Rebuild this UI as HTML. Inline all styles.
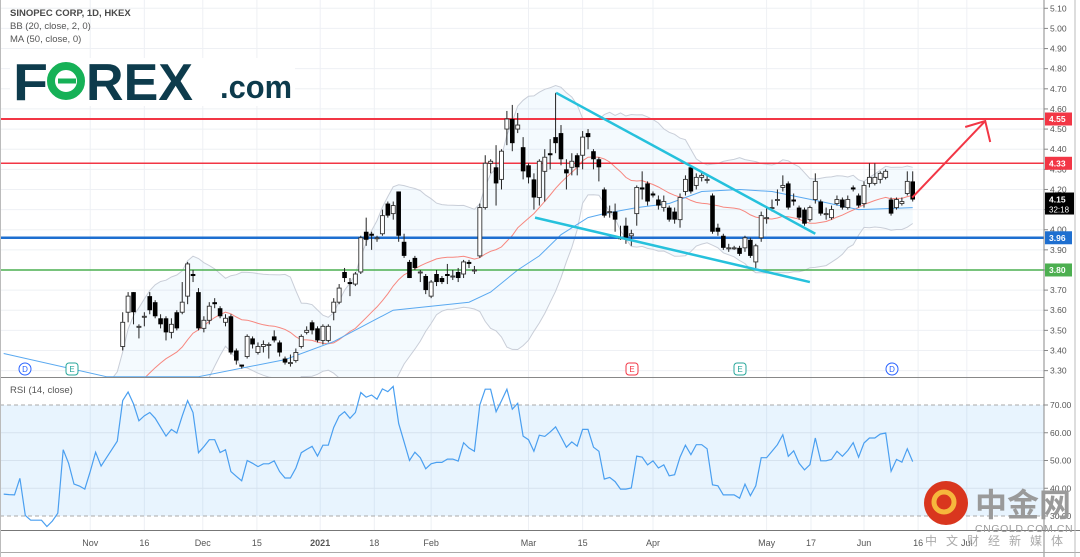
<!DOCTYPE html>
<html><head><meta charset="utf-8"><style>
html,body{margin:0;padding:0;background:#fff;}
svg{display:block;font-family:"Liberation Sans","Noto Sans CJK SC",sans-serif;}
</style></head><body>
<svg id="chart" width="1080" height="557" viewBox="0 0 1080 557" xmlns="http://www.w3.org/2000/svg">
<defs>
<clipPath id="mainClip"><rect x="0" y="0" width="1044" height="377"/></clipPath>
<clipPath id="rsiClip"><rect x="0" y="378" width="1044" height="152"/></clipPath>
</defs>
<g id="grid"></g>
<g id="main" clip-path="url(#mainClip)"></g>
<g id="rsi" clip-path="url(#rsiClip)"></g>
<g id="axes"></g>
<g id="overlay"></g>
</svg>
<script>
// ---- DATA ----
const opens = [3.42,3.59,3.69,3.52,3.57,3.67,3.64,3.56,3.56,3.49,3.59,3.59,3.67,3.78,3.69,3.51,3.55,3.64,3.61,3.54,3.57,3.40,3.33,3.37,3.46,3.39,3.42,3.43,3.47,3.44,3.36,3.34,3.35,3.42,3.49,3.54,3.51,3.45,3.45,3.59,3.64,3.79,3.74,3.73,3.79,3.99,3.98,3.96,3.98,4.13,4.08,4.19,3.94,3.84,3.86,3.79,3.77,3.67,3.78,3.76,3.78,3.77,3.79,3.78,3.84,3.80,3.87,4.11,4.33,4.31,4.25,4.50,4.55,4.50,4.41,4.32,4.25,4.16,4.29,4.38,4.46,4.48,4.30,4.31,4.37,4.37,4.48,4.39,4.35,4.20,4.09,4.09,3.96,4.02,3.97,4.08,4.21,4.23,4.18,4.15,4.11,4.11,4.09,4.05,4.19,4.31,4.22,4.26,4.25,4.17,4.01,3.97,3.91,3.91,3.91,3.91,3.95,3.84,3.96,4.06,4.11,4.15,4.21,4.23,4.15,4.11,4.10,4.05,4.15,4.14,4.08,4.06,4.13,4.15,4.11,4.21,4.17,4.13,4.23,4.23,4.25,4.26,4.15,4.11,4.13,4.18,4.24];
const highs = [3.59,3.69,3.69,3.53,3.59,3.69,3.65,3.58,3.57,3.56,3.60,3.74,3.84,3.80,3.71,3.57,3.64,3.66,3.62,3.58,3.58,3.41,3.33,3.48,3.47,3.44,3.45,3.44,3.50,3.45,3.37,3.38,3.41,3.48,3.52,3.55,3.52,3.53,3.53,3.66,3.73,3.81,3.76,3.79,3.97,4.06,3.99,3.97,4.10,4.14,4.14,4.19,3.98,3.85,3.87,3.80,3.78,3.75,3.80,3.77,3.83,3.80,3.81,3.85,3.85,3.82,4.13,4.37,4.35,4.42,4.40,4.59,4.62,4.58,4.46,4.33,4.28,4.35,4.40,4.45,4.68,4.52,4.35,4.38,4.38,4.49,4.50,4.40,4.36,4.21,4.12,4.13,4.02,4.06,4.00,4.22,4.29,4.24,4.19,4.17,4.17,4.12,4.11,4.18,4.27,4.32,4.28,4.29,4.27,4.18,4.03,3.98,3.93,3.92,3.92,3.97,3.96,3.93,4.09,4.11,4.15,4.20,4.27,4.24,4.18,4.12,4.11,4.12,4.28,4.15,4.11,4.12,4.17,4.16,4.17,4.22,4.18,4.24,4.33,4.33,4.29,4.30,4.16,4.16,4.16,4.29,4.29];
const lows = [3.40,3.54,3.53,3.46,3.52,3.58,3.56,3.51,3.45,3.46,3.50,3.58,3.63,3.74,3.50,3.49,3.53,3.61,3.56,3.52,3.38,3.33,3.31,3.36,3.41,3.38,3.39,3.36,3.44,3.37,3.33,3.32,3.34,3.41,3.48,3.48,3.44,3.43,3.44,3.55,3.63,3.74,3.67,3.72,3.78,3.92,3.90,3.94,3.97,4.06,4.05,3.94,3.86,3.76,3.80,3.74,3.68,3.66,3.72,3.73,3.73,3.75,3.74,3.76,3.81,3.78,3.86,4.10,4.28,4.12,4.20,4.42,4.39,4.48,4.25,4.23,4.10,4.12,4.14,4.30,4.38,4.32,4.20,4.27,4.27,4.30,4.40,4.30,4.24,4.06,4.06,3.99,3.95,3.93,3.92,4.02,4.15,4.12,4.16,4.10,4.09,4.04,4.03,4.01,4.17,4.18,4.20,4.24,4.23,3.98,3.97,3.90,3.89,3.90,3.87,3.89,3.86,3.81,3.94,4.03,4.09,4.12,4.19,4.10,4.12,4.05,4.02,4.04,4.13,4.07,4.05,4.05,4.12,4.10,4.10,4.19,4.11,4.11,4.21,4.22,4.23,4.25,4.07,4.10,4.12,4.17,4.14];
const closes = [3.54,3.67,3.59,3.52,3.57,3.60,3.57,3.53,3.49,3.53,3.51,3.64,3.83,3.77,3.51,3.55,3.62,3.63,3.57,3.56,3.39,3.35,3.32,3.47,3.43,3.42,3.43,3.43,3.45,3.39,3.34,3.34,3.39,3.47,3.50,3.50,3.45,3.52,3.52,3.64,3.71,3.76,3.73,3.78,3.96,3.95,3.97,3.96,4.07,4.07,4.12,3.97,3.87,3.76,3.81,3.79,3.70,3.74,3.74,3.74,3.77,3.77,3.76,3.84,3.83,3.80,4.11,4.33,4.34,4.23,4.39,4.55,4.43,4.52,4.29,4.26,4.16,4.34,4.36,4.37,4.43,4.35,4.28,4.34,4.31,4.46,4.46,4.35,4.31,4.07,4.09,4.05,3.96,3.96,3.98,4.21,4.20,4.14,4.17,4.12,4.14,4.05,4.05,4.16,4.25,4.19,4.26,4.27,4.25,3.99,3.99,3.91,3.91,3.91,3.88,3.96,3.87,3.92,4.07,4.06,4.11,4.15,4.22,4.11,4.14,4.06,4.03,4.11,4.24,4.08,4.08,4.10,4.15,4.11,4.15,4.20,4.12,4.22,4.26,4.26,4.28,4.29,4.08,4.15,4.14,4.24,4.15];
// closes before the first visible bar (below visible range), used for Bollinger bands
const priorCloses = [3.20,3.21,3.19,3.22,3.20,3.18,3.19,3.17,3.18,3.16,3.15,3.15,3.14,3.17,3.10,3.08,3.08,3.07,3.05,3.06,3.07,3.20,3.18,3.13,3.12,3.11,3.17,3.14,3.20,3.24,3.28,3.33];
// MA(50) readings: bar index and value
const maBars = [-22,-3,14,30,39,50,64,68,73,77,81,86,89,95,101,107,114,120,129,136,146];
const maValues = [3.385,3.27,3.27,3.355,3.444,3.60,3.64,3.69,3.80,3.87,3.975,4.06,4.08,4.11,4.13,4.19,4.20,4.19,4.14,4.10,4.11];
// RSI(14) values, starting 22 bars before the first visible candle
const rsiStart = -22;
const rsiValues = [37.9,37.7,37.6,43.6,30.2,28.5,28.5,28.5,26.2,28.2,31,53.9,49,41.5,40.8,39.7,46,53,48,51,54,57,71.6,74.7,70.4,64.3,66.1,67.3,65.2,62,58.8,61.2,59.9,66,71.6,67.3,52.8,55,57.5,57.5,52.9,53.9,46,44.3,42.7,50,49,47.8,48.8,48.8,49.9,46,43.7,43.7,47.3,52.8,54,55.1,51.6,55.5,55.5,61.9,66,67.6,65.2,67.3,74.5,72.8,73.6,72.1,75.8,74.8,76.7,63.3,56.7,50,53,51,47,48.8,49.3,49.3,50.5,50.5,49.8,56.4,54.5,53.3,70,75.7,75.7,67.6,71.5,75.7,68.5,70.6,58.8,57.5,53.3,59.1,58.7,60.3,62.1,58.5,54.8,56.7,55.2,61.2,61.2,54.8,53.3,43.3,43.9,42.4,39.7,39.7,40.1,51.6,51.2,48.4,49.9,47.3,48.4,44.5,44.9,51.2,55.5,52.1,55.7,55.7,54.2,41.2,40.9,37.6,37.6,37.6,36.4,41.5,37.3,40.9,51,51,53.3,55.7,59.3,51.5,53.5,49,46.6,48.5,58.1,49.9,49.9,50.4,53.3,51.5,53.6,56.4,51.2,56.3,58.1,58.1,59.5,59.9,46.1,50.4,49.4,54.2,49.6];
// horizontal levels
const levelPrices = [4.55,4.33,3.96,3.80];
const levelColors = ['#f23645','#f23645','#1e6fd0','#4caf50'];
const levelWidths = [2,1.5,2.5,1.5];
// trendlines [bar, price]
const upperTrend = [[80.1,4.68],[128,3.98]];
const lowerTrend = [[76.2,4.06],[127,3.74]];
const arrowLine = [[145.9,4.16],[159.4,4.54]];
// axis ticks
const priceTicks = [5.10,5.00,4.90,4.80,4.70,4.60,4.50,4.40,4.30,4.20,4.10,4.00,3.90,3.80,3.70,3.60,3.50,3.40,3.30];
const rsiTicks = [70,60,50,40,30];
const timeLabels = ['Nov','16','Dec','15','2021','18','Feb','Mar','15','Apr','May','17','Jun','16','Jul'];
const timeBars = [-6,4,14.8,24.8,36.5,46.5,57,75,85,98,119,127.2,137,147,156];
const lastPrice = 4.15;

// ---- SCALES ----
const X0 = 122.7, DX = 5.411;
function xB(i){ return X0 + i*DX; }
function yP(p){ return 119 + (4.55 - p)*201.3; }
function yR(v){ return 405 + (70 - v)*2.775; }

const NS = 'http://www.w3.org/2000/svg';
function mk(tag, attrs, parent){
  const e = document.createElementNS(NS, tag);
  for (const k in attrs) e.setAttribute(k, attrs[k]);
  parent.appendChild(e);
  return e;
}
const grid = document.getElementById('grid');
const main = document.getElementById('main');
const rsiG = document.getElementById('rsi');
const axes = document.getElementById('axes');
const overlay = document.getElementById('overlay');

// ---- GRID ----
priceTicks.forEach(p => {
  const l = mk('line', {x1:0, x2:1044, y1:yP(p), y2:yP(p), stroke:'#eef0f4', 'stroke-width':1}, grid);
  
  
});
timeBars.forEach(b => {
  const l = mk('line', {x1:xB(b), x2:xB(b), y1:0, y2:530, stroke:'#eef0f4', 'stroke-width':1}, grid);
  
  
});

// ---- BOLLINGER ----
const allCloses = priorCloses.concat(closes);
const off = priorCloses.length;
const up = [], lo = [], mid = [];
for (let i = -12; i < closes.length; i++) {
  const g = i + off;
  const w = allCloses.slice(g - 19, g + 1);
  const m = w.reduce((a, b) => a + b, 0) / w.length;
  const sd = Math.sqrt(w.reduce((a, b) => a + (b - m) * (b - m), 0) / w.length);
  mid.push([xB(i), yP(m)]); up.push([xB(i), yP(m + 2 * sd)]); lo.push([xB(i), yP(m - 2 * sd)]);
}
const pts = a => a.map(p => p[0].toFixed(1) + ',' + p[1].toFixed(1)).join(' ');
const bbFill = mk('polygon', {points: pts(up) + ' ' + pts(lo.slice().reverse()), fill:'#2196f3', 'fill-opacity':0.05}, main);


const bbUp = mk('polyline', {points: pts(up), fill:'none', stroke:'#c9ced8', 'stroke-width':1}, main);


const bbLo = mk('polyline', {points: pts(lo), fill:'none', stroke:'#c9ced8', 'stroke-width':1}, main);


const bbMid = mk('polyline', {points: pts(mid.slice(6)), fill:'none', stroke:'#f7877f', 'stroke-width':1}, main);



// ---- MA50 ----
const maLine = mk('polyline', {points: maBars.map((b, k) => xB(b).toFixed(1) + ',' + yP(maValues[k]).toFixed(1)).join(' '), fill:'none', stroke:'#5aa9f0', 'stroke-width':1}, main);



// ---- LEVELS ----
levelPrices.forEach((p, k) => {
  const l = mk('line', {x1:0, x2:1044, y1:yP(p), y2:yP(p), stroke:levelColors[k], 'stroke-width':levelWidths[k]}, main);
  
  
});

// ---- CANDLES ----
closes.forEach((c, i) => {
  const o = opens[i], x = xB(i);
  const g = mk('g', {}, main);
  
  
  mk('line', {x1:x, x2:x, y1:yP(highs[i]), y2:yP(lows[i]), stroke:'#222', 'stroke-width':1}, g);
  const top = yP(Math.max(o, c)), bot = yP(Math.min(o, c));
  const h = Math.max(1, bot - top);
  if (c >= o) mk('rect', {x:x - 2, y:top, width:4, height:h, fill:'#fff', stroke:'#333', 'stroke-width':0.9}, g);
  else mk('rect', {x:x - 2.3, y:top, width:4.6, height:h, fill:'#000'}, g);
});

// ---- TRENDLINES ----
[upperTrend, lowerTrend].forEach(t => {
  const l = mk('line', {x1:xB(t[0][0]), y1:yP(t[0][1]), x2:xB(t[1][0]), y2:yP(t[1][1]), stroke:'#26c1dc', 'stroke-width':2.5}, main);
  
  
});
{
  const ax1 = xB(arrowLine[0][0]), ay1 = yP(arrowLine[0][1]), ax2 = xB(arrowLine[1][0]), ay2 = yP(arrowLine[1][1]);
  const a = mk('g', {}, overlay);
  
  
  mk('line', {x1:ax1, y1:ay1, x2:ax2, y2:ay2, stroke:'#f23645', 'stroke-width':2}, a);
  mk('polyline', {points:(ax2-20)+','+(ay2+6)+' '+ax2+','+ay2+' '+(ax2+5)+','+(ay2+21), fill:'none', stroke:'#f23645', 'stroke-width':2}, a);
}

// ---- RSI ----
const band = mk('rect', {x:0, y:yR(70), width:1044, height:yR(30) - yR(70), fill:'#2196f3', 'fill-opacity':0.1}, rsiG);


[60, 50, 40].forEach(v => {
  const l = mk('line', {x1:0, x2:1044, y1:yR(v), y2:yR(v), stroke:'#d6e2ee', 'stroke-width':1}, rsiG);
  
  
});
[70, 30].forEach(v => {
  const l = mk('line', {x1:0, x2:1044, y1:yR(v), y2:yR(v), stroke:'#aaaaaa', 'stroke-width':1, 'stroke-dasharray':'4,3'}, rsiG);
  
  
});
const rsiLine = mk('polyline', {points: rsiValues.map((v, k) => xB(rsiStart + k).toFixed(1) + ',' + yR(v).toFixed(1)).join(' '), fill:'none', stroke:'#4a9ff0', 'stroke-width':1.2}, rsiG);



// ---- AXES ----
mk('line', {x1:1044, x2:1044, y1:0, y2:557, stroke:'#888', 'stroke-width':1}, axes);
mk('line', {x1:0, x2:1044, y1:377.5, y2:377.5, stroke:'#888', 'stroke-width':1}, axes);
mk('line', {x1:0, x2:1080, y1:530.5, y2:530.5, stroke:'#777', 'stroke-width':1}, axes);
mk('line', {x1:0, x2:1080, y1:552.5, y2:552.5, stroke:'#aaa', 'stroke-width':1}, axes);
mk('line', {x1:1075, x2:1075, y1:0, y2:557, stroke:'#bbb', 'stroke-width':1}, axes);
mk('line', {x1:0.5, x2:0.5, y1:0, y2:557, stroke:'#bbb', 'stroke-width':1}, axes);
priceTicks.forEach(p => {
  mk('line', {x1:1044, x2:1048, y1:yP(p), y2:yP(p), stroke:'#888'}, axes);
  const t = mk('text', {x:1050, y:yP(p) + 3, 'font-size':8.5, fill:'#555'}, axes);
  t.textContent = p.toFixed(2);
  
  
});
rsiTicks.forEach(v => {
  mk('line', {x1:1044, x2:1048, y1:yR(v), y2:yR(v), stroke:'#888'}, axes);
  const t = mk('text', {x:1050, y:yR(v) + 3, 'font-size':8.5, fill:'#555'}, axes);
  t.textContent = v.toFixed(2);
  
  
});
timeLabels.forEach((s, k) => {
  const t = mk('text', {x:xB(timeBars[k]), y:546, 'font-size':9, fill:'#555', 'text-anchor':'middle', 'font-weight': s === '2021' ? 'bold' : 'normal'}, axes);
  t.textContent = s;
  
  
});
levelPrices.forEach((p, k) => {
  const g = mk('g', {}, axes);
  
  
  mk('rect', {x:1045, y:yP(p) - 6.5, width:27, height:13, fill:levelColors[k]}, g);
  const t = mk('text', {x:1049, y:yP(p) + 3, 'font-size':8.5, fill:'#fff', 'font-weight':'bold'}, g);
  t.textContent = p.toFixed(2);
});
{
  const g = mk('g', {}, axes);
  
  
  const y = yP(lastPrice);
  mk('rect', {x:1045, y:y - 7, width:29, height:22, fill:'#000'}, g);
  const t1 = mk('text', {x:1049, y:y + 3, 'font-size':8.5, fill:'#fff', 'font-weight':'bold'}, g);
  t1.textContent = lastPrice.toFixed(2);
  const t2 = mk('text', {x:1049, y:y + 13, 'font-size':8, fill:'#fff'}, g);
  t2.textContent = '32:18';
}
</script>
<svg width="1080" height="557" style="position:absolute;left:0;top:0" xmlns="http://www.w3.org/2000/svg">
<g font-family="Liberation Sans, sans-serif">
<text x="10" y="16" font-size="9.5" font-weight="bold" fill="#4a4a4a">SINOPEC CORP, 1D, HKEX</text>
<text x="10" y="29" font-size="9.5" fill="#555">BB (20, close, 2, 0)</text>
<text x="10" y="42" font-size="9.5" fill="#555">MA (50, close, 0)</text>
<text x="10" y="393" font-size="9.5" fill="#555">RSI (14, close)</text>
<g>
<rect x="10" y="58" width="285" height="48" fill="#fff"/>
<text x="13" y="100" font-size="52" font-weight="bold" fill="#0d3b4c" textLength="35" lengthAdjust="spacingAndGlyphs">F</text>
<circle cx="66" cy="81" r="15" fill="none" stroke="#16b157" stroke-width="8"/>
<line x1="58" y1="81" x2="76" y2="81" stroke="#16b157" stroke-width="5"/>
<text x="86" y="100" font-size="52" font-weight="bold" fill="#0d3b4c" textLength="107" lengthAdjust="spacingAndGlyphs">REX</text>
<text x="220" y="98" font-size="32" font-weight="bold" fill="#0d3b4c" textLength="72" lengthAdjust="spacingAndGlyphs">.com</text>
</g>
<g>
<circle cx="25" cy="369" r="6" fill="#fff" stroke="#2962ff" stroke-width="1"/><text x="25" y="372" font-size="8" fill="#2962ff" text-anchor="middle">D</text>
<rect x="66" y="363" width="12" height="12" rx="3" fill="#fff" stroke="#26a69a"/><text x="72" y="372" font-size="8" fill="#26a69a" text-anchor="middle">E</text>
<rect x="626" y="363" width="12" height="12" rx="3" fill="#fff" stroke="#f23645"/><text x="632" y="372" font-size="8" fill="#f23645" text-anchor="middle">E</text>
<rect x="734" y="363" width="12" height="12" rx="3" fill="#fff" stroke="#26a69a"/><text x="740" y="372" font-size="8" fill="#26a69a" text-anchor="middle">E</text>
<circle cx="892" cy="369" r="6" fill="#fff" stroke="#2962ff" stroke-width="1"/><text x="892" y="372" font-size="8" fill="#2962ff" text-anchor="middle">D</text>
</g>
<g>
<circle cx="946" cy="503" r="22" fill="#d9361e"/>
<circle cx="944" cy="502" r="10" fill="none" stroke="#f6b73c" stroke-width="5"/>
<text x="975" y="516" font-size="32" font-weight="bold" fill="#9a9a9a" font-family="Noto Sans CJK SC, sans-serif">中金网</text>
<text x="975" y="532" font-size="10.5" fill="#9a9a9a" letter-spacing="0.6">CNGOLD.COM.CN</text>
<text x="925" y="545" font-size="12" fill="#aaa" letter-spacing="9" font-family="Noto Sans CJK SC, sans-serif">中文财经新媒体</text>
</g>
</g>
</svg>
</body></html>
